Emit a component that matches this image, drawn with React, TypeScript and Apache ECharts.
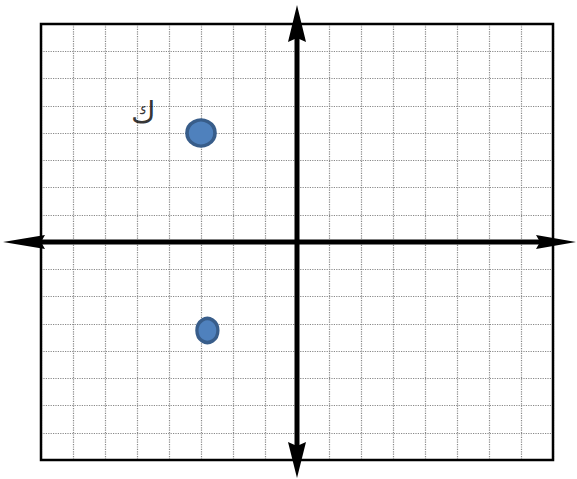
import React, { useEffect, useRef } from "react";
import * as echarts from "echarts";

// Data
const axisMin = -8;
const axisMax = 8;
const axisStep = 1;
const pointX = [-3, -2.8];
const pointY = [4, -3.25];
const labelTexts = ["ك"];
const labelX = [-4.8];
const labelY = [4.75];

// Styles
const markerSizes: [number, number][] = [
  [28, 26],
  [21, 24],
];

export default function App() {
  const ref = useRef<HTMLDivElement>(null);
  useEffect(() => {
    if (!ref.current) return;
    const chart = echarts.init(ref.current, null, { renderer: "svg" });
    const W = 577;
    const axisRender = (params: any, api: any) => {
      const o = api.coord([0, 0]);
      const top = api.coord([0, axisMax]);
      const bottom = api.coord([0, axisMin]);
      const left = api.coord([axisMin, 0]);
      const right = api.coord([axisMax, 0]);
      const topTip = top[1] - 19;
      const botTip = bottom[1] + 18;
      const leftTip = left[0] - 38;
      const rightTip = Math.min(W - 1, right[0] + 23);
      const st = { stroke: "#000", lineWidth: 5 };
      return {
        type: "group",
        children: [
          {
            type: "line",
            shape: { x1: o[0], y1: topTip + 30, x2: o[0], y2: botTip - 30 },
            style: st,
          },
          {
            type: "line",
            shape: { x1: leftTip + 30, y1: o[1], x2: rightTip - 30, y2: o[1] },
            style: st,
          },
          {
            type: "polygon",
            shape: {
              points: [
                [o[0], topTip],
                [o[0] + 9, topTip + 37],
                [o[0], topTip + 33],
                [o[0] - 9, topTip + 37],
              ],
            },
            style: { fill: "#000" },
          },
          {
            type: "polygon",
            shape: {
              points: [
                [o[0], botTip],
                [o[0] + 9, botTip - 36],
                [o[0], botTip - 32],
                [o[0] - 9, botTip - 36],
              ],
            },
            style: { fill: "#000" },
          },
          {
            type: "polygon",
            shape: {
              points: [
                [leftTip, o[1]],
                [leftTip + 42, o[1] - 7],
                [leftTip + 38, o[1]],
                [leftTip + 42, o[1] + 7],
              ],
            },
            style: { fill: "#000" },
          },
          {
            type: "polygon",
            shape: {
              points: [
                [rightTip, o[1]],
                [rightTip - 40, o[1] - 7],
                [rightTip - 36, o[1]],
                [rightTip - 40, o[1] + 7],
              ],
            },
            style: { fill: "#000" },
          },
        ],
      };
    };
    const splitStyle = {
      show: true,
      lineStyle: { color: "#888888", width: 1.2, type: [1.2, 1.2] as any },
    };
    chart.setOption({
      animation: false,
      grid: {
        left: 41,
        top: 24,
        width: 512,
        height: 436,
        show: true,
        borderColor: "#000",
        borderWidth: 2.5,
        backgroundColor: "transparent",
        z: 3,
      },
      xAxis: {
        type: "value",
        min: axisMin,
        max: axisMax,
        interval: axisStep,
        axisLine: { show: false },
        axisTick: { show: false },
        axisLabel: { show: false },
        splitLine: splitStyle,
      },
      yAxis: {
        type: "value",
        min: axisMin,
        max: axisMax,
        interval: axisStep,
        axisLine: { show: false },
        axisTick: { show: false },
        axisLabel: { show: false },
        splitLine: splitStyle,
      },
      series: [
        {
          type: "custom",
          renderItem: axisRender,
          data: [[0, 0]],
          clip: false,
          silent: true,
          z: 5,
        },
        {
          type: "scatter",
          data: pointX.map((x, i) => ({
            value: [x, pointY[i]],
            symbolSize: markerSizes[i],
          })),
          itemStyle: {
            color: "#4F81BD",
            borderColor: "#385D8A",
            borderWidth: 3.5,
            opacity: 1,
          },
          z: 6,
        },
        {
          type: "scatter",
          data: labelX.map((x, i) => ({
            value: [x, labelY[i]],
            name: labelTexts[i],
          })),
          symbolSize: 1,
          itemStyle: { color: "transparent" },
          label: {
            show: true,
            position: "inside",
            formatter: (p: any) => p.name,
            color: "#000",
            fontSize: 30,
            fontFamily: "DejaVu Sans",
          },
          z: 6,
        },
      ],
    });
    return () => chart.dispose();
  }, []);
  return (
    <div
      ref={ref}
      style={{ position: "absolute", left: 0, top: 0, width: 577, height: 479 }}
    />
  );
}
